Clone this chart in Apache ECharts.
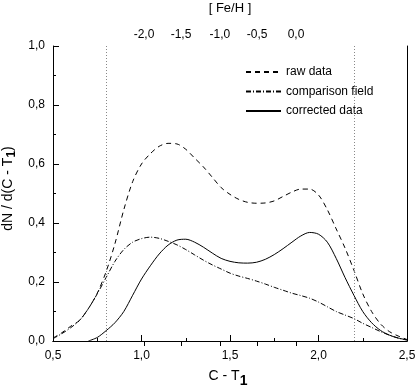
<!DOCTYPE html>
<html><head><meta charset="utf-8">
<script src="https://cdn.jsdelivr.net/npm/echarts@6/dist/echarts.min.js"></script>
<style>html,body{margin:0;padding:0;background:#fff}#c{width:417px;height:386px}</style>
</head><body><div id="c"></div>
<script>
const xValues = [0.50,0.55,0.60,0.65,0.70,0.75,0.80,0.85,0.90,0.95,1.00,1.05,1.10,1.15,1.20,1.25,1.30,1.35,1.40,1.45,1.50,1.55,1.60,1.65,1.70,1.75,1.80,1.85,1.90,1.95,2.00,2.05,2.10,2.15,2.20,2.25,2.30,2.35,2.40,2.45,2.50];
const rawData = [0.010,0.028,0.050,0.070,0.110,0.162,0.235,0.330,0.445,0.540,0.600,0.635,0.660,0.670,0.668,0.650,0.620,0.590,0.555,0.520,0.497,0.480,0.470,0.467,0.468,0.475,0.490,0.505,0.515,0.515,0.495,0.445,0.380,0.315,0.240,0.160,0.100,0.058,0.032,0.017,0.005];
const comparisonField = [0.008,0.025,0.045,0.070,0.110,0.160,0.215,0.270,0.310,0.335,0.347,0.352,0.348,0.338,0.326,0.310,0.292,0.274,0.258,0.244,0.230,0.220,0.212,0.203,0.193,0.182,0.172,0.162,0.154,0.145,0.132,0.116,0.100,0.088,0.076,0.060,0.046,0.032,0.020,0.010,0.003];
const correctedData = [null,null,null,null,0.000,0.012,0.035,0.062,0.100,0.155,0.210,0.255,0.295,0.325,0.342,0.345,0.335,0.318,0.298,0.280,0.270,0.265,0.264,0.267,0.277,0.293,0.313,0.335,0.356,0.368,0.362,0.335,0.280,0.215,0.155,0.100,0.062,0.036,0.020,0.010,0.004];
const feHTickPos = [1.014, 1.223, 1.443, 1.653, 1.873];
const feHLabels = ['-2,0', '-1,5', '-1,0', '-0,5', '0,0'];
const limitLines = [0.8, 2.2];
const seriesNames = ['raw data', 'comparison field', 'corrected data'];

const FONT = 'Liberation Sans';
const pairs = arr => xValues.map((x, i) => [x, arr[i]]).filter(p => p[1] !== null);
const comma = v => v.toFixed(1).replace('.', ',');

const chart = echarts.init(document.getElementById('c'), null, {renderer: 'canvas'});
const axisLine = {show: true, lineStyle: {color: '#000', width: 1}};
chart.setOption({
  animation: false,
  backgroundColor: '#fff',
  textStyle: {fontFamily: FONT, color: '#000'},
  grid: {left: 53, right: 10, top: 46, bottom: 45, outerBoundsMode: 'none', containLabel: false},
  legend: {
    orient: 'vertical', left: 240, top: 61,
    itemWidth: 35, itemHeight: 10, itemGap: 7.5,
    padding: [5, 8, 5, 5],
    backgroundColor: '#fff',
    itemStyle: {opacity: 0},
    textStyle: {fontFamily: FONT, fontSize: 12, color: '#000'},
    data: seriesNames
  },
  xAxis: [{
    type: 'value', min: 0.5, max: 2.5, interval: 0.5,
    axisLine: axisLine,
    axisTick: {show: true, inside: true, length: 6, lineStyle: {color: '#000'}},
    minorTick: {show: true, splitNumber: 2, length: 3, lineStyle: {color: '#000'}},
    splitLine: {show: false},
    axisLabel: {formatter: comma, fontSize: 12, color: '#000', margin: 9, fontFamily: FONT},
    name: 'C - T{sub|1}', nameLocation: 'middle', nameGap: 24,
    nameTextStyle: {fontSize: 14, color: '#000', fontFamily: FONT, padding: [0, 4, 0, 0],
      rich: {sub: {fontSize: 14, fontWeight: 'bold', fontFamily: FONT, padding: [9, 0, 0, 0]}}}
  }, {
    type: 'value', min: 0.5, max: 2.5, position: 'top',
    axisLine: axisLine,
    axisTick: {show: true, inside: true, length: 5, customValues: feHTickPos, lineStyle: {color: '#000'}},
    axisLabel: {show: true, customValues: feHTickPos, margin: 5, fontSize: 12, color: '#000', fontFamily: FONT,
      formatter: v => { const i = feHTickPos.findIndex(p => Math.abs(p - v) < 1e-6); return i >= 0 ? feHLabels[i] : ''; }},
    splitLine: {show: false},
    name: '[ Fe/H ]', nameLocation: 'middle', nameGap: 31,
    nameTextStyle: {fontSize: 13, color: '#000', fontFamily: FONT}
  }],
  yAxis: [{
    type: 'value', min: 0, max: 1, interval: 0.2,
    axisLine: axisLine,
    axisTick: {show: true, inside: true, length: 6, lineStyle: {color: '#000'}},
    minorTick: {show: true, splitNumber: 2, length: 3, lineStyle: {color: '#000'}},
    splitLine: {show: false},
    axisLabel: {formatter: comma, fontSize: 12, color: '#000', margin: 8, fontFamily: FONT},
    name: 'dN / d(C - T{sub|1})', nameLocation: 'middle', nameGap: 34,
    nameTextStyle: {fontSize: 14, color: '#000', fontFamily: FONT, padding: [0, 0, 0, 10],
      rich: {sub: {fontSize: 12, fontWeight: 'bold', fontFamily: FONT, padding: [7, 0, 0, 0]}}}
  }, {
    type: 'value', min: 0, max: 1, position: 'right',
    axisLine: axisLine, axisTick: {show: false}, axisLabel: {show: false}, splitLine: {show: false}
  }],
  series: [{
    name: seriesNames[0], type: 'line', smooth: 0.3, showSymbol: false, symbol: 'none',
    data: pairs(rawData),
    lineStyle: {color: '#000', width: 1, type: [5, 4]},
    itemStyle: {color: '#000'},
    markLine: {
      silent: true, symbol: 'none', label: {show: false},
      lineStyle: {color: '#888', width: 1, type: [1, 2]},
      data: limitLines.map(v => ({xAxis: v}))
    }
  }, {
    name: seriesNames[1], type: 'line', smooth: 0.3, showSymbol: false, symbol: 'none',
    data: pairs(comparisonField),
    lineStyle: {color: '#000', width: 1, type: [5, 2, 1, 2]},
    itemStyle: {color: '#000'}
  }, {
    name: seriesNames[2], type: 'line', smooth: 0.3, showSymbol: false, symbol: 'none',
    data: pairs(correctedData),
    lineStyle: {color: '#000', width: 1, type: 'solid'},
    itemStyle: {color: '#000'}
  }]
});
</script></body></html>
